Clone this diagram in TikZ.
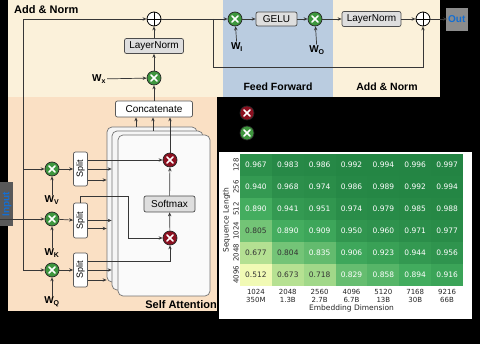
\documentclass[tikz,border=0pt]{standalone}
\usepackage{fontspec}
\setmainfont{Liberation Sans}
\newfontfamily\plotfont{DejaVu Sans}
\usetikzlibrary{arrows.meta, positioning, calc}
\definecolor{NormBeige}{RGB}{251,241,218}
\definecolor{AttnPeach}{RGB}{250,224,196}
\definecolor{FFBlue}{RGB}{186,204,224}
\definecolor{GateGreen}{RGB}{62,150,62}
\definecolor{GateRed}{RGB}{140,16,32}
\definecolor{LineDark}{RGB}{55,55,55}
\definecolor{TagBlue}{RGB}{20,110,210}
% YlGn stops
\definecolor{yg0}{HTML}{FFFFE5}
\definecolor{yg1}{HTML}{F7FCB9}
\definecolor{yg2}{HTML}{D9F0A3}
\definecolor{yg3}{HTML}{ADDD8E}
\definecolor{yg4}{HTML}{78C679}
\definecolor{yg5}{HTML}{41AB5D}
\definecolor{yg6}{HTML}{238443}
\definecolor{yg7}{HTML}{006837}
\definecolor{yg8}{HTML}{004529}
\newcommand{\heatcolor}[1]{%
  \pgfmathsetmacro{\heatpos}{8*(0.15+1.237*(#1-0.512))}%
  \pgfmathtruncatemacro{\heatlo}{min(floor(\heatpos),7)}%
  \pgfmathtruncatemacro{\heathi}{\heatlo+1}%
  \pgfmathtruncatemacro{\heatmix}{100*(\heatpos-\heatlo)}%
  \colorlet{heatfill}{yg\heathi!\heatmix!yg\heatlo}%
  \ifdim #1pt>0.82pt \colorlet{heattext}{white}\else\colorlet{heattext}{black!80}\fi}

\begin{document}
\begin{tikzpicture}[x=1pt, y=-1pt,
    arr/.style={draw=LineDark, line width=0.7pt, -{Stealth[length=4pt,width=3.4pt]}},
    gate/.style={circle, draw=black!85, line width=0.7pt, minimum size=14pt, inner sep=0pt,
      path picture={\draw[white, line width=1.5pt, line cap=round]
        ([shift={(-3pt,-3pt)}]path picture bounding box.center) -- ([shift={(3pt,3pt)}]path picture bounding box.center)
        ([shift={(-3pt,3pt)}]path picture bounding box.center) -- ([shift={(3pt,-3pt)}]path picture bounding box.center);}},
    mulg/.style={gate, fill=GateGreen},
    mulr/.style={gate, fill=GateRed},
    addop/.style={circle, draw=black, line width=0.8pt, fill=white, minimum size=14pt, inner sep=0pt,
      path picture={\draw[black, line width=0.9pt]
        ([xshift=-7pt]path picture bounding box.center) -- ([xshift=7pt]path picture bounding box.center)
        ([yshift=-7pt]path picture bounding box.center) -- ([yshift=7pt]path picture bounding box.center);}},
    opbox/.style={draw=black!70, fill=black!13, rounded corners=2pt, line width=0.7pt, inner sep=2pt,
      font=\fontsize{10}{12}\selectfont},
    plainbox/.style={draw=black!65, fill=white, rounded corners=2pt, line width=0.7pt, inner sep=1pt},
    head/.style={draw=black!55, fill=black!4, rounded corners=5pt, line width=0.7pt},
    wlab/.style={font=\bfseries\fontsize{10}{12}\selectfont, inner sep=1pt},
    region/.style={font=\bfseries\fontsize{11}{13}\selectfont, inner sep=0pt},
    cell/.style={minimum width=31.86pt, minimum height=22pt, inner sep=0pt,
      font=\plotfont\fontsize{7.5}{9}\selectfont},
    tick/.style={inner sep=0pt, text=black!85, font=\plotfont\fontsize{7}{7.6}\selectfont}]
  \useasboundingbox (0,0) rectangle (480,344);
  \fill[black] (0,0) rectangle (480,344);
  \fill[NormBeige] (8,0) rectangle (223,97);
  \fill[FFBlue] (223,0) rectangle (333,97);
  \fill[NormBeige] (333,0) rectangle (440,97);
  \fill[AttnPeach] (8,97) rectangle (217,311);
  \fill[white] (219,152) rectangle (472,319);
  \fill[black!65] (0,182) rectangle (13,226);
  \fill[black!45] (446,8) rectangle (468,31);

  % stacked heads
  \node[head, minimum width=90pt, minimum height=155pt] (h3) at (152,204.5) {};
  \node[head, minimum width=91pt, minimum height=159pt] (h2) at (157.5,210.5) {};
  \node[head, fill=black!2, minimum width=92pt, minimum height=161pt] (h1) at (164,215.5) {};

  \node[mulr] (mu1) at (170,160) {};
  \node[opbox, minimum width=51pt, minimum height=16pt] (sm) at (169.5,204) {Softmax};
  \node[mulr] (mu2) at (170,238) {};

  \node[plainbox, font=\fontsize{10}{12}\selectfont, minimum width=77pt, minimum height=16pt] (cat) at (154,109) {Concatenate};
  \node[mulg] (mx) at (154,78) {};
  \node[wlab] (wx) at (99,79) {W\textsubscript{x}};
  \node[opbox, minimum width=59pt, minimum height=15pt] (ln1) at (154,46) {LayerNorm};
  \node[addop] (res1) at (154,19) {};

  % projections
  \node[mulg] (mv) at (52,169) {};
  \node[mulg] (mk) at (52,219) {};
  \node[mulg] (mq) at (52,270) {};
  \node[wlab] (wv) at (52,200) {W\textsubscript{V}};
  \node[wlab] (wk) at (52,253) {W\textsubscript{K}};
  \node[wlab] (wq) at (52,302) {W\textsubscript{Q}};
  \node[plainbox, minimum width=14pt, minimum height=34pt, font=\fontsize{9}{10}\selectfont] (sv) at (80.5,169) {\rotatebox{90}{Split}};
  \node[plainbox, minimum width=14pt, minimum height=35pt, font=\fontsize{9}{10}\selectfont] (sk) at (80.5,220.5) {\rotatebox{90}{Split}};
  \node[plainbox, minimum width=14pt, minimum height=34pt, font=\fontsize{9}{10}\selectfont] (sq) at (80.5,270) {\rotatebox{90}{Split}};

  \node[text=TagBlue, font=\bfseries\fontsize{10}{12}\selectfont, rotate=90, inner sep=0pt] (inp) at (7,204) {Input};
  \coordinate (src) at (0,219);
  \coordinate (fork) at (23,219);

  % feed forward row
  \node[mulg] (mi) at (235,19) {};
  \node[wlab] (wi) at (237,47) {W\textsubscript{I}};
  \node[opbox, minimum width=41pt, minimum height=14pt] (gelu) at (276.5,19) {GELU};
  \node[mulg] (mo) at (315,19) {};
  \node[wlab] (wo) at (317,50) {W\textsubscript{O}};
  \node[opbox, minimum width=59pt, minimum height=15pt] (ln2) at (371.5,19) {LayerNorm};
  \node[addop] (res2) at (423,19) {};
  \node[text=TagBlue, font=\bfseries\fontsize{10}{12}\selectfont, anchor=west, inner sep=1pt] (out) at (447,19) {Out};
  \coordinate (fork2) at (213,19);

  \node[region, anchor=west] (an1) at (14,10) {Add \& Norm};
  \node[region, font=\bfseries\fontsize{10.5}{12}\selectfont] (ff) at (278,87) {Feed Forward};
  \node[region, font=\bfseries\fontsize{10.5}{12}\selectfont] (an2) at (387,87) {Add \& Norm};
  \node[region, anchor=east] (sa) at (217,305) {Self Attention};

  % legend
  \node[mulr] (lm1) at (247,113) {};
  \node[mulg] (lm2) at (247,133) {};

  % connectors
  \draw[arr] (src) -- (mk);
  \draw[arr] (fork) |- (mv);
  \draw[arr] (fork) |- (mq);
  \draw[arr] (fork) |- (res1);
  \draw[arr] (wv) -- (mv);
  \draw[arr] (wk) -- (mk);
  \draw[arr] (wq) -- (mq);
  \draw[arr] (mv) -- (sv);
  \draw[arr] (mk) -- (sk);
  \draw[arr] (mq) -- (sq);

  \draw[arr] (sv.east |- mu1) -- (mu1);
  \draw[arr] (sv.east) -- (sv.east -| h2.west);
  \draw[arr] ([yshift=-11pt]sv.east) -- ([yshift=-11pt]sv.east -| h3.west);
  \draw[arr] (sk.north) -- ++(0,-6) -- ++(48,0) |- (mu2);
  \draw[arr] (sk.east) -- (sk.east -| h2.west);
  \draw[arr] ([yshift=-8pt]sk.east) -- ([yshift=-8pt]sk.east -| h3.west);
  \draw[arr] ([yshift=9pt]sq.east) -| (mu2);
  \draw[arr] (sq.east) -- (sq.east -| h2.west);
  \draw[arr] ([yshift=-10pt]sq.east) -- ([yshift=-10pt]sq.east -| h3.west);

  \draw[arr] (mu2) -- (sm);
  \draw[arr] (sm) -- (mu1);
  \draw[arr] (mu1) -- (mu1 |- cat.south);
  \draw[arr] ([xshift=-4.5pt]h2.north) -- ([xshift=-4.5pt]h2.north |- cat.south);
  \draw[arr] ([xshift=-16pt]h3.north) -- ([xshift=-16pt]h3.north |- cat.south);
  \draw[arr] (cat) -- (mx);
  \draw[arr] (wx) -- (mx);
  \draw[arr] (mx) -- (ln1);
  \draw[arr] (ln1) -- (res1);

  \draw[arr] (res1) -- (mi);
  \draw[arr] (wi) -- (mi);
  \draw[arr] (mi) -- (gelu);
  \draw[arr] (gelu) -- (mo);
  \draw[arr] (wo) -- (mo);
  \draw[arr] (mo) -- (ln2);
  \draw[arr] (ln2) -- (res2);
  \draw[arr] (fork2) -- ++(0,48) -| (res2);
  \draw[arr] (res2) -- (out);

  % heatmap
  \foreach \vals [count=\r from 0] in {
      {0.967,0.983,0.986,0.992,0.994,0.996,0.997},
      {0.940,0.968,0.974,0.986,0.989,0.992,0.994},
      {0.890,0.941,0.951,0.974,0.979,0.985,0.988},
      {0.805,0.890,0.909,0.950,0.960,0.971,0.977},
      {0.677,0.804,0.835,0.906,0.923,0.944,0.956},
      {0.512,0.673,0.718,0.829,0.858,0.894,0.916}} {
    \foreach \v [count=\c from 0] in \vals {
      \heatcolor{\v}
      \node[cell, fill=heatfill, text=heattext] (cell-\r-\c) at ({255.93+31.86*\c}, {165+22*\r}) {\v};
    }
  }
  \foreach \n/\p [count=\c from 0] in {1024/350M, 2048/1.3B, 2560/2.7B, 4096/6.7B, 5120/13B, 7168/30B, 9216/66B}
    \node[tick, align=center] (xt-\c) at ({255.93+31.86*\c}, 296) {\n\\\p};
  \foreach \s [count=\r from 0] in {128,256,512,1024,2048,4096}
    \node[tick, rotate=90] (yt-\r) at (236, {165+22*\r}) {\s};
  \node[tick, font=\plotfont\fontsize{7.5}{9}\selectfont] (xlab) at (351.5,308) {Embedding Dimension};
  \node[tick, rotate=90, font=\plotfont\fontsize{7.5}{9}\selectfont] (ylab) at (226.5,220) {Sequence Length};
\end{tikzpicture}
\end{document}
